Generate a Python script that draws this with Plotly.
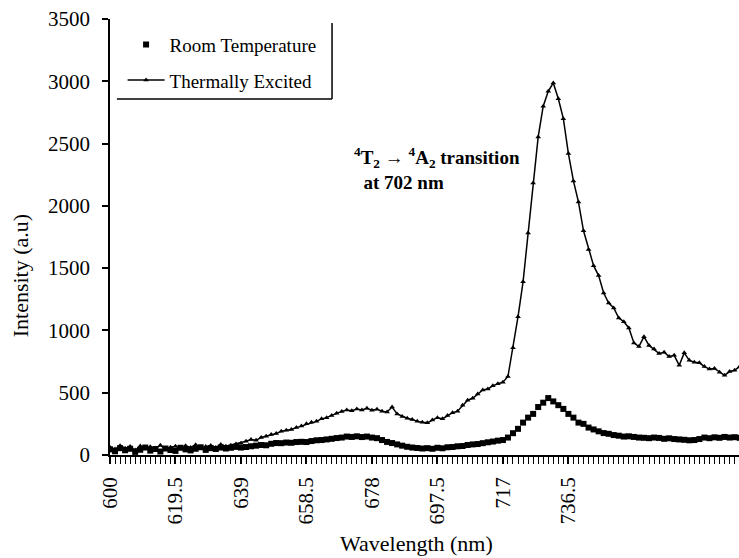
import numpy as np
import plotly.graph_objects as go

# Emission spectra, sampled every 1.5 nm starting at 600 nm
start_nm = 600.0
step_nm = 1.5

room_temperature = [
    45, 30, 55, 38, 50, 25, 42, 60, 35, 48, 28, 52, 40, 33, 58, 45, 37, 50, 62, 41,
    55, 48, 60, 52, 58, 65, 60, 64, 70, 75, 80, 78, 90, 96, 95, 100, 98, 104, 106, 104,
    112, 118, 120, 125, 130, 136, 140, 148, 145, 150, 144, 148, 140, 135, 120, 105, 96, 85, 75, 66,
    60, 56, 52, 55, 50, 58, 54, 62, 64, 70, 72, 80, 85, 88, 95, 102, 108, 115, 120, 140,
    175, 210, 260, 300, 330, 385, 420, 457, 430, 400, 370, 330, 300, 260, 250, 220, 205, 190, 176, 170,
    160, 155, 148, 150, 145, 140, 138, 135, 140, 137, 130, 134, 128, 125, 122, 118, 120, 128, 140, 135,
    142, 138, 145, 140, 143, 138,
]

thermally_excited = [
    62, 48, 75, 55, 68, 40, 72, 58, 66, 50, 78, 45, 63, 70, 52, 74, 60, 82, 57, 69,
    76, 61, 84, 70, 79, 88, 95, 110, 125, 118, 140, 150, 165, 172, 190, 198, 205, 220, 232, 250,
    262, 270, 290, 300, 318, 335, 350, 362, 355, 370, 362, 375, 360, 368, 352, 345, 385, 330, 310, 295,
    285, 270, 262, 258, 280, 300, 290, 318, 340, 352, 400, 440, 455, 490, 522, 530, 555, 572, 585, 630,
    860, 1110, 1390, 1782, 2184, 2553, 2800, 2920, 2987, 2860, 2700, 2420, 2200, 2030, 1800, 1650, 1520, 1440, 1300, 1220,
    1180, 1100, 1070, 1020, 900, 870, 950, 880, 850, 815, 825, 790, 800, 720, 820, 760, 745, 740, 710, 690,
    695, 665, 640, 670, 680, 710,
]

wavelength = start_nm + step_nm * np.arange(len(room_temperature))

x_tick_values = [600, 619.5, 639, 658.5, 678, 697.5, 717, 736.5]
x_tick_labels = ["600", "619.5", "639", "658.5", "678", "697.5", "717", "736.5"]
y_tick_values = [0, 500, 1000, 1500, 2000, 2500, 3000, 3500]

FONT = "Liberation Serif"

fig = go.Figure()

fig.add_trace(go.Scatter(
    x=wavelength, y=room_temperature,
    mode="markers", name="Room Temperature",
    legendgroup="rt",
    marker=dict(symbol="square", size=6, color="black", line=dict(width=0)),
))

fig.add_trace(go.Scatter(
    x=wavelength, y=thermally_excited,
    mode="lines+markers", name="Thermally Excited",
    legendgroup="te",
    line=dict(color="black", width=1.5),
    marker=dict(symbol="triangle-up", size=5, color="black"),
))

fig.add_annotation(
    x=0.385, y=0.717, xref="paper", yref="paper",
    xanchor="left", yanchor="top", align="left", showarrow=False,
    text="<b><sup>4</sup>T<sub>2</sub> \u2192 <sup>4</sup>A<sub>2</sub> transition</b><br><b>  at 702 nm</b>",
    font=dict(family=FONT, size=19, color="black"),
)

# axis titles
fig.add_annotation(
    x=0.487, y=-0.202, xref="paper", yref="paper",
    xanchor="center", yanchor="middle", showarrow=False,
    text="Wavelength (nm)",
    font=dict(family=FONT, size=22, color="black"),
)
fig.add_annotation(
    x=-0.143, y=0.41, xref="paper", yref="paper",
    xanchor="center", yanchor="middle", showarrow=False, textangle=-90,
    text="Intensity (a.u)",
    font=dict(family=FONT, size=22, color="black"),
)

# right and bottom edges of the legend frame
fig.add_shape(type="line", xref="paper", yref="paper",
              x0=0.353, x1=0.353, y0=0.8165, y1=0.991,
              line=dict(color="black", width=1.5))
fig.add_shape(type="line", xref="paper", yref="paper",
              x0=0.011, x1=0.353, y0=0.8165, y1=0.8165,
              line=dict(color="black", width=1.5))

fig.update_layout(
    width=739, height=558,
    margin=dict(l=110, r=0, t=19, b=103),
    paper_bgcolor="white", plot_bgcolor="white",
    font=dict(family=FONT, size=20, color="black"),
    showlegend=True,
    legend=dict(
        x=0.02, y=0.985, xanchor="left", yanchor="top",
        bgcolor="rgba(255,255,255,0)", borderwidth=0,
        font=dict(family=FONT, size=19, color="black"),
        traceorder="grouped", tracegroupgap=8, itemwidth=37,
    ),
    xaxis=dict(
        range=[600, 787.3],
        tickmode="array", tickvals=x_tick_values, ticktext=x_tick_labels,
        tickangle=-90, ticks="outside", ticklen=7, tickwidth=1.5, tickcolor="black",
        ticklabelstandoff=5,
        minor=dict(ticks="outside", tick0=600, dtick=1.5, ticklen=7, tickwidth=1, tickcolor="black"),
        showline=True, linecolor="black", linewidth=1.5,
        showgrid=False, zeroline=False,
        tickfont=dict(family=FONT, size=21),
    ),
    yaxis=dict(
        range=[0, 3500],
        tickmode="array", tickvals=y_tick_values,
        ticks="outside", ticklen=6, tickwidth=1.5, tickcolor="black",
        ticklabelstandoff=8,
        showline=True, linecolor="black", linewidth=1.5,
        showgrid=False, zeroline=False,
        tickfont=dict(family=FONT, size=21),
    ),
)

fig.write_html("out.html")
